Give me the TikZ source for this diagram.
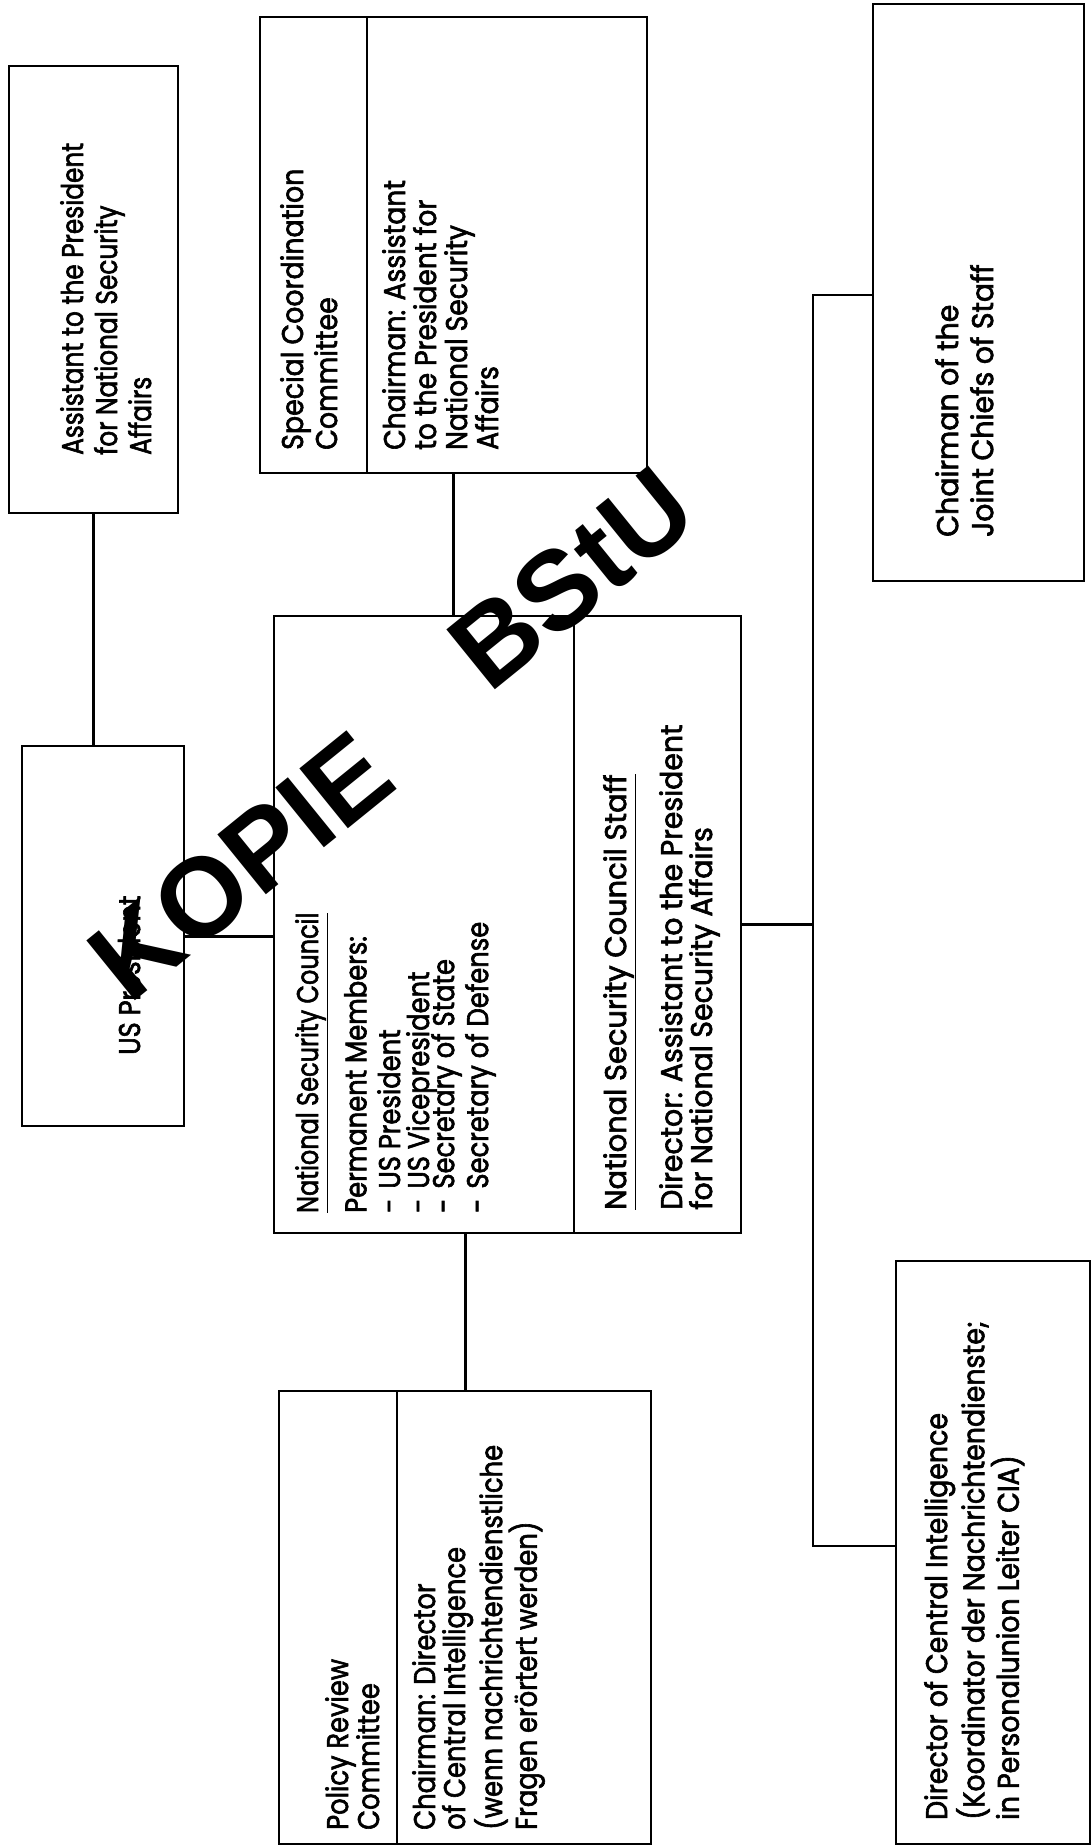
\documentclass[tikz,border=0pt]{standalone}
\usepackage{fontspec}
\setmainfont{Poppins}[FakeStretch=0.86, FakeBold=2]
\newfontfamily\stampfont{Liberation Sans}
\begin{document}
\begin{tikzpicture}[x=1pt,y=-1pt,
  box/.style={draw, line width=2.4pt, anchor=north west, inner sep=0pt},
  conn/.style={line width=2.6pt},
  divider/.style={line width=2.2pt},
  txt/.style={rotate=90, anchor=north west, inner sep=0pt, align=left,
    font=\fontsize{30}{36}\selectfont},
  stamp/.style={rotate=39, inner sep=0pt, font=\stampfont\bfseries\fontsize{112}{112}\selectfont}]
\useasboundingbox[fill=white] (0,0) rectangle (1091,1847);

% boxes
\node[box, minimum width=169pt, minimum height=447pt] (asst) at (8,65) {};
\node[box, minimum width=162pt, minimum height=380pt] (usp) at (21,745) {};
\node[box, minimum width=467pt, minimum height=617pt] (nsc) at (273,615) {};
\node[box, minimum width=387pt, minimum height=456pt] (scc) at (259,16) {};
\node[box, minimum width=372pt, minimum height=453pt] (prc) at (278,1390) {};
\node[box, minimum width=211pt, minimum height=577pt] (jcs) at (872,3) {};
\node[box, minimum width=194pt, minimum height=583pt] (dci) at (895,1260) {};

% dividers
\draw[divider] (574,615) -- (574,1232);
\draw[divider] (367,16) -- (367,472);
\draw[divider] (397,1390) -- (397,1843);

% connectors
\draw[conn] (asst.south) -- (asst.south |- usp.north);
\draw[conn] (usp.east) -- (usp.east -| nsc.west);
\draw[conn] (scc.south) -- (scc.south |- nsc.north);
\draw[conn] (prc.north) -- (prc.north |- nsc.south);
\coordinate (bm) at (813,923);
\coordinate (bt) at (813,295);
\coordinate (bb) at (813,1546);
\draw[conn] (nsc.east) -- (nsc.east -| bm);
\draw[conn] (jcs.west |- bt) -- (bt) -- (bb) -- (dci.west |- bb);

% texts
\node[txt, font=\fontsize{30}{34}\selectfont, xscale=0.96] (tasst) at (60,455) {Assistant to the President\\for National Security\\Affairs};
\node[txt, font=\fontsize{30}{34}\selectfont, xscale=1.04] (tscc1) at (280,450) {Special Coordination\\Committee};
\node[txt, font=\fontsize{30}{31}\selectfont, xscale=1.03] (tscc2) at (382,450) {Chairman: Assistant\\to the President for\\National Security\\Affairs};
\node[txt, font=\fontsize{30}{35}\selectfont, xscale=1.1] (tjcs) at (935,537) {Chairman of the\\Joint Chiefs of Staff};
\node[txt] (tusp) at (117,1055) {US President};
\node[txt, xscale=0.93] (tnsc1) at (295,1213) {\underline{National Security Council}};
\node[txt] (tnsc2) at (344,1213) {Permanent Members:};
\node[txt] (tnsc3) at (377,1213) {-\hspace{10pt}US President};
\node[txt] (tnsc4) at (406,1213) {-\hspace{10pt}US Vicepresident};
\node[txt] (tnsc5) at (431,1213) {-\hspace{10pt}Secretary of State};
\node[txt] (tnsc6) at (465,1213) {-\hspace{10pt}Secretary of Defense};
\node[txt, xscale=1.12] (tnss1) at (603,1210) {\underline{National Security Council Staff}};
\node[txt, font=\fontsize{30}{30}\selectfont, xscale=1.1] (tnss2) at (659,1210) {Director: Assistant to the President\\for National Security Affairs};
\node[txt, font=\fontsize{30}{31}\selectfont] (tprc1) at (325,1830) {Policy Review\\Committee};
\node[txt, font=\fontsize{30}{30}\selectfont] (tprc2) at (412,1830) {Chairman: Director\\of Central Intelligence\\(wenn nachrichtendienstliche\\Fragen erörtert werden)};
\node[txt, font=\fontsize{30}{30}\selectfont, xscale=1.04] (tdci) at (924,1820) {Director of Central Intelligence\\(Koordinator der Nachrichtendienste;\\in Personalunion Leiter CIA)};

% stamp
\node[stamp] (kopie) at (241,866) {KOPIE};
\node[stamp] (bstu) at (572,578) {BStU};
\end{tikzpicture}
\end{document}
